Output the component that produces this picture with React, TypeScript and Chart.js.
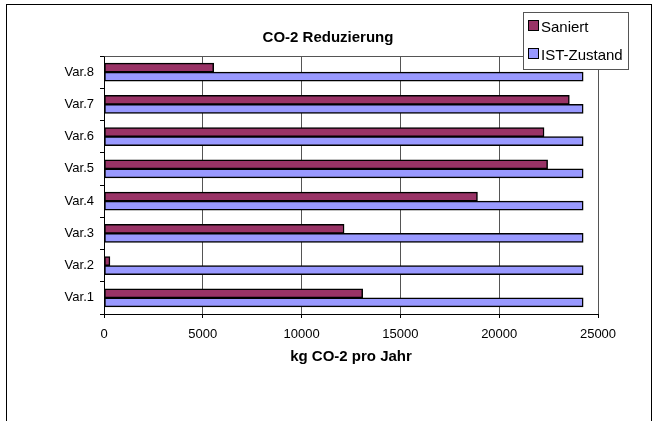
import React, { useEffect, useRef } from 'react';
import { Chart, registerables } from 'chart.js';

Chart.register(...registerables);

const categories = ['Var.8', 'Var.7', 'Var.6', 'Var.5', 'Var.4', 'Var.3', 'Var.2', 'Var.1'];
const saniert = [5550, 23550, 22270, 22450, 18900, 12150, 300, 13090];
const istZustand = [24250, 24250, 24250, 24250, 24250, 24250, 24250, 24250];
const seriesNames = ['Saniert', 'IST-Zustand'];
const seriesColors = ['#993366', '#9999FF'];
const chartTitle = 'CO-2 Reduzierung';
const xAxisTitle = 'kg CO-2 pro Jahr';
const xMin = 0;
const xMax = 25000;
const xStep = 5000;

const FONT = "'Liberation Sans', Arial, sans-serif";

const framePlugin = {
  id: 'frame',
  beforeDraw(chart: any) {
    const ctx = chart.ctx;
    ctx.save();
    ctx.strokeStyle = '#000';
    ctx.lineWidth = 1;
    ctx.strokeRect(6.5, 4.5, 645, 440);
    ctx.fillStyle = '#000';
    ctx.font = `bold 15px ${FONT}`;
    ctx.textAlign = 'center';
    ctx.textBaseline = 'alphabetic';
    ctx.fillText(chartTitle, 328, 41.5);
    ctx.restore();
  },
  afterDatasetsDraw(chart: any) {
    const { ctx, chartArea } = chart;
    ctx.save();
    ctx.strokeStyle = '#555';
    ctx.lineWidth = 1;
    ctx.beginPath();
    ctx.moveTo(Math.round(chartArea.left) + 0.5, Math.round(chartArea.top) + 0.5);
    ctx.lineTo(Math.round(chartArea.right) + 0.5, Math.round(chartArea.top) + 0.5);
    ctx.stroke();
    ctx.restore();
  },
};

const legendPlugin = {
  id: 'boxLegend',
  afterDraw(chart: any) {
    const ctx = chart.ctx;
    const x = 523;
    const y = 12;
    const w = 105;
    const h = 57;
    ctx.save();
    ctx.fillStyle = '#fff';
    ctx.fillRect(x, y, w, h);
    ctx.strokeStyle = '#555';
    ctx.lineWidth = 1;
    ctx.strokeRect(x + 0.5, y + 0.5, w, h);
    ctx.font = `15px ${FONT}`;
    ctx.textBaseline = 'alphabetic';
    ctx.textAlign = 'left';
    chart.data.datasets.forEach((ds: any, i: number) => {
      const sy = 21 + i * 28;
      ctx.fillStyle = ds.backgroundColor;
      ctx.fillRect(x + 6, sy, 9, 9);
      ctx.strokeStyle = '#000';
      ctx.strokeRect(x + 5.5, sy - 0.5, 10, 10);
      ctx.fillStyle = '#000';
      ctx.fillText(ds.label, x + 18, sy + 11);
    });
    ctx.restore();
  },
};

export default function App() {
  const ref = useRef<HTMLCanvasElement | null>(null);

  useEffect(() => {
    document.body.style.margin = '0';
    const canvas = ref.current;
    if (!canvas) return;
    Chart.defaults.color = '#000';
    const mkDataset = (i: number, data: number[]) => ({
      label: seriesNames[i],
      data,
      backgroundColor: seriesColors[i],
      borderColor: '#000',
      borderWidth: 1.5,
      borderSkipped: false,
      barThickness: 9,
    });
    const chart = new Chart(canvas, {
      type: 'bar',
      data: {
        labels: categories,
        datasets: [mkDataset(0, saniert), mkDataset(1, istZustand)],
      },
      options: {
        indexAxis: 'y',
        responsive: false,
        animation: false,
        events: [],
        layout: { padding: { left: 0, right: 58, top: 56, bottom: 0 } },
        plugins: {
          legend: { display: false },
          tooltip: { enabled: false },
          title: { display: false },
        },
        scales: {
          x: {
            type: 'linear',
            min: xMin,
            max: xMax,
            afterFit: (scale: any) => {
              scale.height = 107;
            },
            ticks: {
              stepSize: xStep,
              padding: 9,
              color: '#000',
              font: { family: FONT, size: 13 },
              callback: (v: any) => String(v),
            },
            grid: {
              color: '#555',
              tickColor: '#000',
              tickLength: 4,
              lineWidth: 1,
            },
            border: { color: '#000', width: 1 },
            title: {
              display: true,
              text: xAxisTitle,
              color: '#000',
              font: { family: FONT, size: 15, weight: 'bold', lineHeight: 1.2 },
              padding: { top: 0, bottom: 55 },
            },
          },
          y: {
            type: 'category',
            offset: true,
            afterFit: (scale: any) => {
              scale.width = 104;
            },
            ticks: {
              padding: 6,
              color: '#000',
              font: { family: FONT, size: 13 },
            },
            grid: {
              offset: true,
              drawOnChartArea: false,
              tickColor: '#000',
              tickLength: 4,
            },
            border: { color: '#000', width: 1 },
          },
        },
      },
      plugins: [framePlugin, legendPlugin],
    } as any);
    return () => chart.destroy();
  }, []);

  return <canvas ref={ref} width={656} height={421} style={{ display: 'block' }} />;
}
